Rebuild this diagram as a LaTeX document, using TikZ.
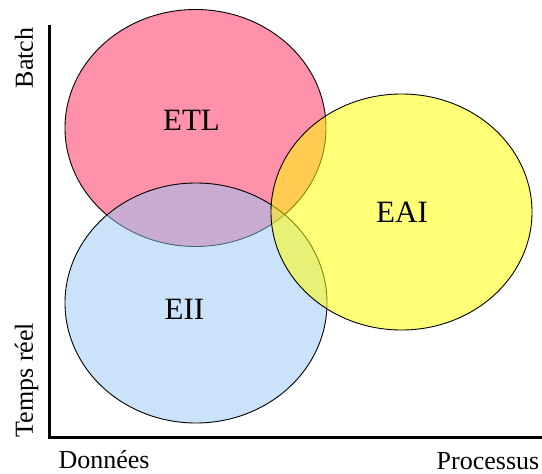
\documentclass[tikz,border=0pt]{standalone}
\usepackage{fontspec}
\setmainfont{Liberation Serif}
\usepackage{color}

\definecolor{etlpink}{RGB}{255,145,171}
\definecolor{eiiblue}{RGB}{149,199,247}
\definecolor{eaiyellow}{RGB}{255,255,0}

\begin{document}
\begin{tikzpicture}[x=1pt,y=-1pt,
  blob/.style={draw=black,line width=0.9pt},
  axis/.style={line width=3pt},
  biglabel/.style={font=\fontsize{31}{36}\selectfont,inner sep=0pt},
  axislabel/.style={font=\fontsize{26}{30}\selectfont,inner sep=0pt,anchor=base}]
\useasboundingbox (0,0) rectangle (542,474);

% axes
\coordinate (o) at (49,437);
\coordinate (ytop) at (49,25);
\coordinate (xend) at (542,437);
\draw[axis] (ytop)--(o)--(xend);

% the three sets
\path[blob,fill=etlpink] (195.5,128) ellipse (130.5pt and 118.5pt);
\path[blob,fill=eiiblue,fill opacity=0.5] (196,303) ellipse (131pt and 120pt);
\path[blob,fill=eaiyellow,fill opacity=0.53] (401.5,212) ellipse (130.5pt and 118pt);

\node[biglabel] (etl) at (191.5,120.5) {ETL};
\node[biglabel] (eii) at (184.5,309) {EII};
\node[biglabel] (eai) at (402,212.5) {EAI};

\node[axislabel,rotate=90] (batch) at (33,58) {Batch};
\node[axislabel,rotate=90] (reel) at (33,380) {Temps réel};
\node[axislabel] (donnees) at (104,468) {Données};
\node[axislabel] (proc) at (488,469) {Processus};
\end{tikzpicture}
\end{document}
